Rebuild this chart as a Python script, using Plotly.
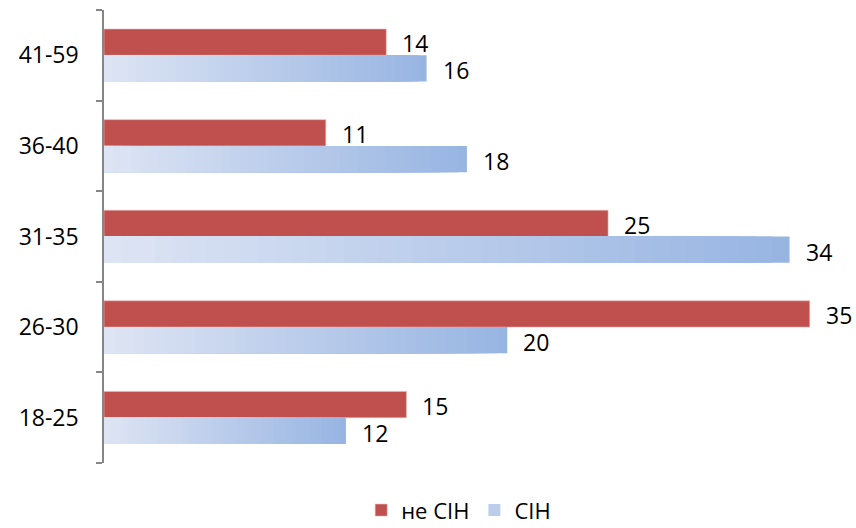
import plotly.graph_objects as go

categories = ["18-25", "26-30", "31-35", "36-40", "41-59"]
ne_sin = [15, 35, 25, 11, 14]
sin = [12, 20, 34, 18, 16]
series_names = ["не СІН", "СІН"]

RED = "#C0504D"
LIGHT = (222, 229, 244)
DARK = (151, 180, 226)
N_STEPS = 40
BAR_W = 0.29
FONT = "Open Sans"
FS = 23

fig = go.Figure()

fig.add_trace(go.Bar(
    y=categories, x=ne_sin, orientation="h", name=series_names[0],
    legendrank=1,
    marker=dict(color=RED, line=dict(color="#E6B9B8", width=0.6)),
    width=BAR_W, offset=0, hoverinfo="skip",
))

# gradient-filled bars for the second series (drawn as nested overlays)
for k in range(N_STEPS):
    f_hi = (N_STEPS - k) / N_STEPS
    f_mid = (N_STEPS - k - 0.5) / N_STEPS
    c = tuple(round(LIGHT[i] + (DARK[i] - LIGHT[i]) * f_mid) for i in range(3))
    fig.add_trace(go.Bar(
        y=categories, x=[v * f_hi for v in sin], orientation="h",
        name=series_names[1], showlegend=(k == N_STEPS // 2),
        legendrank=2,
        marker=dict(color="rgb(%d,%d,%d)" % c, line=dict(width=0)),
        width=BAR_W, offset=-BAR_W, hoverinfo="skip",
    ))

ann = []
for cat, v in zip(categories, ne_sin):
    ann.append(dict(x=v, y=cat, text=str(v), showarrow=False, xanchor="left",
                    yanchor="middle", xshift=14, yshift=12,
                    font=dict(family=FONT, size=FS, color="#000")))
for cat, v in zip(categories, sin):
    ann.append(dict(x=v, y=cat, text=str(v), showarrow=False, xanchor="left",
                    yanchor="middle", xshift=14, yshift=-15,
                    font=dict(family=FONT, size=FS, color="#000")))

fig.update_layout(
    width=856, height=528,
    margin=dict(l=104, r=10, t=10, b=65, autoexpand=False),
    barmode="overlay",
    plot_bgcolor="white", paper_bgcolor="white",
    font=dict(family=FONT, size=FS, color="#000"),
    xaxis=dict(visible=False, range=[0, 36.8], fixedrange=True),
    yaxis=dict(type="category", categoryorder="array", categoryarray=categories,
               showline=True, linecolor="#868686", linewidth=1.5,
               ticks="outside", tickson="boundaries", ticklen=6,
               tickcolor="#868686", tickwidth=1.5,
               ticklabelstandoff=19, showgrid=False,
               tickfont=dict(family=FONT, size=FS, color="#000")),
    legend=dict(orientation="h", x=0.478, xanchor="center", y=-0.058,
                yanchor="top", font=dict(family=FONT, size=22),
                traceorder="normal", itemwidth=30),
    annotations=ann,
    showlegend=True,
)

fig.write_html("out.html")
